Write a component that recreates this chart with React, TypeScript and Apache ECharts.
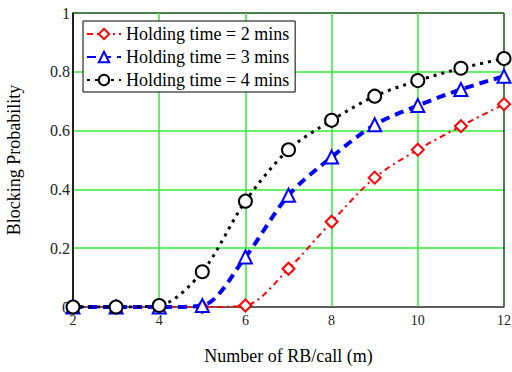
import React, { useEffect, useRef } from "react";
import * as echarts from "echarts";

const xValues = [2, 3, 4, 5, 6, 7, 8, 9, 10, 11, 12];
const hold2 = [0, 0, 0, 0, 0.005, 0.13, 0.29, 0.44, 0.535, 0.615, 0.69];
const hold3 = [0, 0, 0, 0.005, 0.17, 0.38, 0.51, 0.62, 0.685, 0.74, 0.785];
const hold4 = [0, 0, 0.005, 0.12, 0.36, 0.535, 0.635, 0.717, 0.77, 0.812, 0.845];
const seriesNames = [
  "Holding time = 2 mins",
  "Holding time = 3 mins",
  "Holding time = 4 mins",
];

const FONT = "Liberation Serif";

export default function App() {
  const ref = useRef<HTMLDivElement>(null);
  useEffect(() => {
    const chart = echarts.init(ref.current!, null, { renderer: "svg" });
    const pair = (arr: number[]) => xValues.map((x, i) => [x, arr[i]]);
    const gridColors = ["#555", "#33ee33", "#33ee33", "#33ee33", "#33ee33", "#115511"];
    chart.setOption({
      animation: false,
      backgroundColor: "#fff",
      textStyle: { fontFamily: FONT },
      grid: {
        left: 73,
        right: 8,
        top: 13,
        bottom: 65,
        containLabel: false,
        outerBoundsMode: "none",
      },
      legend: {
        left: 83,
        top: 21,
        orient: "vertical",
        backgroundColor: "#fff",
        borderColor: "#000",
        borderWidth: 1,
        padding: [4, 6, 3, 3],
        itemGap: 5,
        itemWidth: 34,
        itemHeight: 13,
        textStyle: { fontFamily: FONT, fontSize: 18, color: "#000" },
        data: seriesNames,
      },
      xAxis: {
        type: "value",
        min: 2,
        max: 12,
        interval: 2,
        name: "Number of RB/call (m)",
        nameLocation: "middle",
        nameGap: 40,
        nameTextStyle: { fontFamily: FONT, fontSize: 18, color: "#000" },
        axisLine: { show: true, lineStyle: { color: "#555", width: 1.5 } },
        axisTick: { show: false },
        axisLabel: { fontFamily: FONT, fontSize: 14, color: "#222", margin: 6 },
        splitLine: { show: true, lineStyle: { color: gridColors, width: 1.5 } },
      },
      yAxis: {
        type: "value",
        min: 0,
        max: 1,
        interval: 0.2,
        name: "Blocking Probability",
        nameLocation: "middle",
        nameGap: 50,
        nameRotate: 90,
        nameTextStyle: { fontFamily: FONT, fontSize: 18, color: "#000" },
        axisLine: { show: true, lineStyle: { color: "#000", width: 1.5 } },
        axisTick: { show: false },
        axisLabel: { fontFamily: FONT, fontSize: 16, color: "#222", margin: 3 },
        splitLine: { show: true, lineStyle: { color: gridColors, width: 1.5 } },
      },
      series: [
        {
          name: seriesNames[0],
          type: "line",
          smooth: 0.3,
          data: pair(hold2),
          symbol: "emptyDiamond",
          symbolSize: 12,
          itemStyle: { color: "#ff0000", borderWidth: 1 },
          lineStyle: { color: "#ff0000", width: 2, type: [6, 4, 2, 4] },
          z: 3,
        },
        {
          name: seriesNames[1],
          type: "line",
          smooth: 0.3,
          data: pair(hold3),
          symbol: "emptyTriangle",
          symbolSize: 13,
          itemStyle: { color: "#0000ff", borderWidth: 1 },
          lineStyle: { color: "#0000ff", width: 4, type: [9, 6] },
          z: 4,
        },
        {
          name: seriesNames[2],
          type: "line",
          smooth: 0.3,
          data: pair(hold4),
          symbol: "emptyCircle",
          symbolSize: 13,
          itemStyle: { color: "#000000", borderWidth: 1 },
          lineStyle: { color: "#000000", width: 3, type: [3, 5] },
          z: 5,
        },
      ],
    });
    return () => chart.dispose();
  }, []);
  return (
    <div
      ref={ref}
      style={{ position: "fixed", left: 0, top: 0, width: 512, height: 372 }}
    />
  );
}
